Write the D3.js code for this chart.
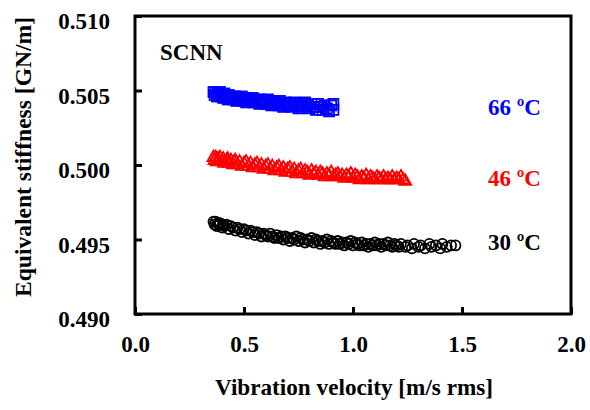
<!DOCTYPE html>
<html>
<head>
<meta charset="utf-8">
<script src="https://cdn.jsdelivr.net/npm/d3@7"></script>
<style>
  body { margin: 0; background: #fff; }
  text { font-family: "Liberation Serif", "Times New Roman", serif; font-weight: bold; }
</style>
</head>
<body>
<svg id="chart" width="590" height="410"></svg>
<script>
// ***** Data ***** //
var xTicks = [0.0, 0.5, 1.0, 1.5, 2.0];
var yTicks = [0.490, 0.495, 0.500, 0.505, 0.510];

// 66 ºC, squares
var s66 = [[0.36,0.5049],[0.365,0.5047],[0.37,0.5049],[0.375,0.5046],[0.38,0.5048],[0.385,0.5047],
  [0.39,0.5049],[0.395,0.5046],[0.40,0.5047],[0.405,0.5045],[0.41,0.5048],[0.42,0.5046],[0.425,0.5044],
  [0.43,0.5047],[0.44,0.5045],[0.445,0.5046],[0.45,0.5044],[0.46,0.5046],[0.465,0.5043],[0.47,0.5045],
  [0.48,0.5044],[0.49,0.5046],[0.50,0.5043],[0.505,0.5045],[0.51,0.5042],[0.52,0.5044],[0.53,0.5043],
  [0.54,0.5045],[0.545,0.5042],[0.55,0.5044],[0.56,0.5043],[0.57,0.5041],[0.575,0.5044],[0.58,0.5042],
  [0.59,0.5043],[0.60,0.5041],[0.61,0.5044],[0.62,0.5042],[0.625,0.5040],[0.63,0.5043],[0.64,0.5041],
  [0.65,0.5042],[0.66,0.5040],[0.665,0.5043],[0.67,0.5041],[0.68,0.5039],[0.69,0.5042],[0.70,0.5040],
  [0.71,0.5041],[0.72,0.5039],[0.73,0.5042],[0.74,0.5040],[0.75,0.5038],[0.76,0.5041],[0.77,0.5039],
  [0.78,0.5042],[0.79,0.5040],[0.80,0.5038],[0.81,0.5041],[0.82,0.5039],[0.83,0.5037],[0.84,0.5041],
  [0.85,0.5039],[0.86,0.5037],[0.87,0.5040],[0.88,0.5038],[0.89,0.5036],[0.90,0.5040],[0.91,0.5041],
  [0.91,0.5037]];

// 46 ºC, triangles
var s46 = [[0.36,0.5005],[0.365,0.5003],[0.37,0.5005],[0.375,0.5002],[0.38,0.5004],[0.385,0.5003],
  [0.39,0.5005],[0.40,0.5002],[0.405,0.5004],[0.41,0.5001],[0.42,0.5003],[0.425,0.5004],[0.43,0.5001],
  [0.44,0.5003],[0.45,0.5000],[0.455,0.5002],[0.46,0.5003],[0.47,0.5000],[0.48,0.5002],[0.49,0.4999],
  [0.50,0.5001],[0.51,0.5002],[0.52,0.4999],[0.53,0.5001],[0.54,0.4998],[0.55,0.5000],[0.56,0.5001],
  [0.57,0.4998],[0.58,0.5000],[0.59,0.4997],[0.60,0.4999],[0.61,0.5000],[0.62,0.4997],[0.63,0.4999],
  [0.64,0.4996],[0.65,0.4998],[0.66,0.4999],[0.67,0.4996],[0.68,0.4998],[0.69,0.4995],[0.70,0.4997],
  [0.71,0.4998],[0.72,0.4995],[0.73,0.4997],[0.74,0.4994],[0.75,0.4996],[0.76,0.4997],[0.77,0.4994],
  [0.78,0.4996],[0.79,0.4995],[0.80,0.4993],[0.81,0.4996],[0.82,0.4994],[0.83,0.4995],[0.84,0.4993],
  [0.85,0.4995],[0.86,0.4994],[0.87,0.4992],[0.88,0.4994],[0.89,0.4993],[0.90,0.4995],[0.91,0.4992],
  [0.92,0.4993],[0.93,0.4994],[0.94,0.4992],[0.95,0.4993],[0.96,0.4991],[0.97,0.4993],[0.98,0.4992],
  [0.99,0.4994],[1.00,0.4991],[1.01,0.4993],[1.02,0.4992],[1.03,0.4990],[1.04,0.4992],[1.05,0.4991],
  [1.06,0.4993],[1.07,0.4990],[1.08,0.4992],[1.09,0.4991],[1.10,0.4990],[1.11,0.4992],[1.12,0.4991],
  [1.13,0.4990],[1.14,0.4992],[1.15,0.4990],[1.16,0.4991],[1.17,0.4990],[1.18,0.4992],[1.19,0.4990],
  [1.20,0.4991],[1.21,0.4990],[1.22,0.4992],[1.23,0.4990],[1.24,0.4989]];

// 30 ºC, circles
var s30 = [[0.36,0.4962],[0.365,0.4960],[0.37,0.4962],[0.375,0.4959],[0.38,0.4961],[0.385,0.4960],
  [0.39,0.4961],[0.40,0.4958],[0.405,0.4960],[0.41,0.4959],[0.42,0.4960],[0.43,0.4957],[0.44,0.4959],
  [0.45,0.4958],[0.46,0.4956],[0.47,0.4958],[0.48,0.4957],[0.49,0.4955],[0.50,0.4957],[0.51,0.4956],
  [0.52,0.4954],[0.53,0.4956],[0.54,0.4955],[0.55,0.4953],[0.56,0.4955],[0.57,0.4954],[0.58,0.4952],
  [0.59,0.4954],[0.60,0.4953],[0.61,0.4952],[0.62,0.4954],[0.63,0.4952],[0.64,0.4951],[0.65,0.4953],
  [0.66,0.4951],[0.67,0.4952],[0.68,0.4950],[0.69,0.4952],[0.70,0.4951],[0.71,0.4949],[0.72,0.4951],
  [0.73,0.4950],[0.74,0.4952],[0.75,0.4949],[0.76,0.4951],[0.77,0.4950],[0.78,0.4948],[0.79,0.4950],
  [0.80,0.4949],[0.81,0.4951],[0.82,0.4948],[0.83,0.4950],[0.84,0.4949],[0.85,0.4947],[0.86,0.4949],
  [0.87,0.4948],[0.88,0.4950],[0.89,0.4947],[0.90,0.4949],[0.91,0.4948],[0.92,0.4947],[0.93,0.4949],
  [0.94,0.4947],[0.95,0.4948],[0.96,0.4946],[0.97,0.4948],[0.98,0.4947],[0.99,0.4949],[1.00,0.4946],
  [1.01,0.4948],[1.02,0.4947],[1.03,0.4946],[1.04,0.4948],[1.05,0.4946],[1.06,0.4947],[1.07,0.4945],
  [1.08,0.4947],[1.09,0.4946],[1.10,0.4948],[1.11,0.4946],[1.12,0.4947],[1.13,0.4945],[1.14,0.4947],
  [1.15,0.4946],[1.16,0.4948],[1.17,0.4946],[1.18,0.4945],[1.19,0.4947],[1.20,0.4946],[1.21,0.4945],
  [1.22,0.4947],[1.24,0.4945],[1.25,0.4946],[1.27,0.4944],[1.28,0.4947],[1.30,0.4945],[1.31,0.4946],
  [1.33,0.4944],[1.35,0.4947],[1.36,0.4945],[1.38,0.4946],[1.40,0.4944],[1.41,0.4947],[1.43,0.4945],
  [1.45,0.4946],[1.47,0.4946]];

// ***** Layout ***** //
var svg = d3.select('#chart');
var plotL = 135, plotR = 571, plotT = 16, plotB = 314;
var fs = 23;

var x = d3.scaleLinear().domain([0, 2]).range([plotL, plotR]);
var y = d3.scaleLinear().domain([0.490, 0.510]).range([plotB, plotT]);

// ***** Markers ***** //
var g = svg.append('g');

g.selectAll('rect.s66').data(s66).enter().append('rect')
  .attr('x', d => x(d[0]) - 5).attr('y', d => y(d[1]) - 5)
  .attr('width', 10).attr('height', 10)
  .attr('fill', 'none').attr('stroke', '#0000ff').attr('stroke-width', 1.8);

var tri = d3.symbol().type(d3.symbolTriangle).size(62);
g.selectAll('path.s46').data(s46).enter().append('path')
  .attr('d', tri)
  .attr('transform', d => 'translate(' + x(d[0]) + ',' + y(d[1]) + ')')
  .attr('fill', 'none').attr('stroke', '#ff0000').attr('stroke-width', 1.8);

g.selectAll('circle.s30').data(s30).enter().append('circle')
  .attr('cx', d => x(d[0])).attr('cy', d => y(d[1])).attr('r', 5)
  .attr('fill', 'none').attr('stroke', '#000').attr('stroke-width', 1.8);

// ***** Axes ***** //
svg.append('g')
  .attr('transform', 'translate(0,' + plotB + ')')
  .call(d3.axisBottom(x).tickValues(xTicks).tickSize(-7).tickPadding(22).tickFormat(d3.format('.1f')))
  .call(a => a.select('.domain').remove())
  .call(a => a.selectAll('line').attr('stroke', '#000').attr('stroke-width', 3))
  .call(a => a.selectAll('text').attr('font-size', fs).attr('fill', '#000')
    .attr('font-family', '"Liberation Serif", serif').attr('font-weight', 'bold'));

svg.append('g')
  .attr('transform', 'translate(' + plotL + ',0)')
  .call(d3.axisLeft(y).tickValues(yTicks).tickSize(-7).tickPadding(25).tickFormat(d3.format('.3f')))
  .call(a => a.select('.domain').remove())
  .call(a => a.selectAll('line').attr('stroke', '#000').attr('stroke-width', 3))
  .call(a => a.selectAll('text').attr('font-size', fs).attr('fill', '#000').attr('dy', '0.55em')
    .attr('font-family', '"Liberation Serif", serif').attr('font-weight', 'bold'));

svg.append('rect')
  .attr('x', plotL).attr('y', plotT)
  .attr('width', plotR - plotL).attr('height', plotB - plotT)
  .attr('fill', 'none').attr('stroke', '#000').attr('stroke-width', 3);

// ***** Labels ***** //
svg.append('text').attr('x', 354).attr('y', 395).attr('text-anchor', 'middle')
  .attr('font-size', fs).attr('textLength', 278).attr('lengthAdjust', 'spacingAndGlyphs')
  .text('Vibration velocity [m/s rms]');

svg.append('text').attr('transform', 'translate(31,157) rotate(-90)').attr('text-anchor', 'middle')
  .attr('font-size', fs).attr('textLength', 280).attr('lengthAdjust', 'spacingAndGlyphs')
  .text('Equivalent stiffness [GN/m]');

svg.append('text').attr('x', 160).attr('y', 60).attr('font-size', fs).text('SCNN');

svg.append('text').attr('x', 488).attr('y', 115).attr('font-size', fs).attr('fill', '#0000ff').text('66 ºC');
svg.append('text').attr('x', 488).attr('y', 186).attr('font-size', fs).attr('fill', '#ff0000').text('46 ºC');
svg.append('text').attr('x', 488).attr('y', 250).attr('font-size', fs).attr('fill', '#000').text('30 ºC');
</script>
</body>
</html>
